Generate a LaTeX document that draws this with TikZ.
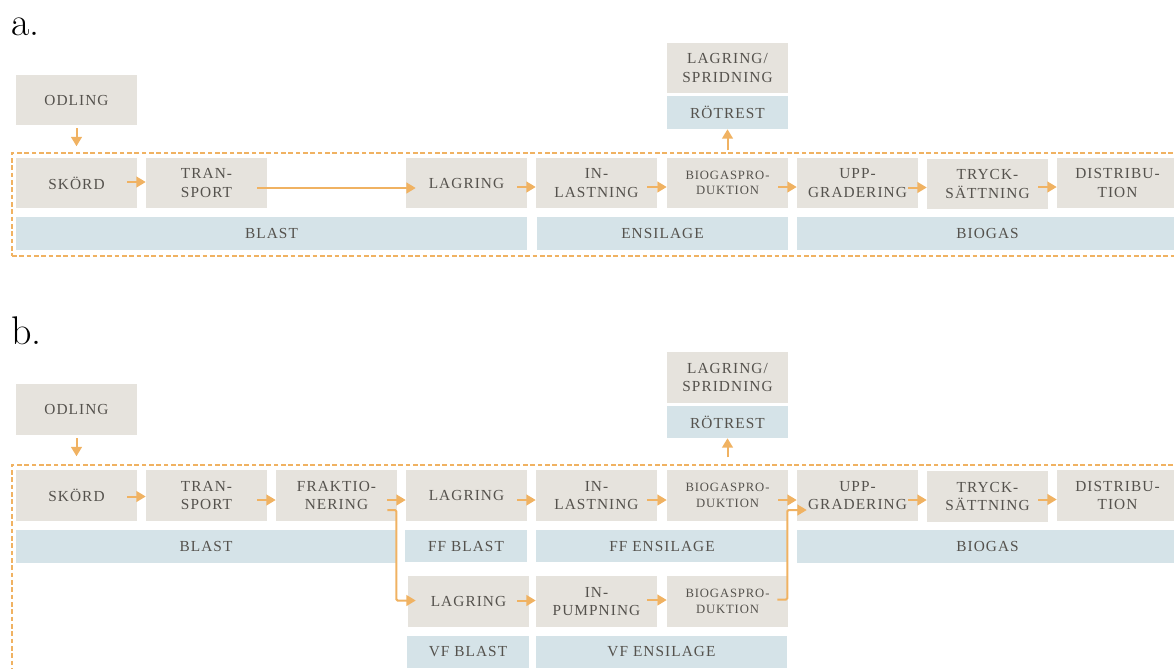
\documentclass[tikz,border=0pt]{standalone}
\usepackage{fontspec}
\newfontfamily\boxfont[LetterSpace=7]{Liberation Serif}
\usetikzlibrary{arrows.meta,calc}
\definecolor{gfill}{HTML}{E6E3DD}
\definecolor{bfill}{HTML}{D5E3E8}
\definecolor{orng}{HTML}{F0B262}
\definecolor{txt}{HTML}{55524D}
\tikzset{
  gbox/.style={fill=gfill, draw=none, inner sep=1pt, align=center, text=txt,
    font=\boxfont\fontsize{11.5}{14}\selectfont,
    minimum width=90.75pt, minimum height=37.5pt},
  bbox/.style={fill=bfill, draw=none, inner sep=1pt, align=center, text=txt,
    font=\boxfont\fontsize{11.5}{14}\selectfont, minimum height=24.75pt},
  small/.style={font=\boxfont\fontsize{9.5}{11.5}\selectfont},
  frame/.style={draw=orng, dashed, dash pattern=on 3.5pt off 2pt, line width=1.1pt,
    minimum width=883.5pt, inner sep=0pt},
  arr/.style={draw=orng, line width=1.5pt, -{Triangle[length=7pt,width=8pt]}},
  lbl/.style={font=\fontsize{30}{32}\selectfont, inner sep=0pt, anchor=base west}
}
\begin{document}
\begin{tikzpicture}[x=0.75pt, y=-0.75pt]
\useasboundingbox (0,0) rectangle (1174,668);
\clip (0,0) rectangle (1174,668);

% ---------------- a ----------------
\node[lbl] (la) at (11,35) {a.};
\node[frame, minimum height=77.25pt] (fA) at (601,204.5) {};
\node[gbox] (odA) at (76.5,100) {ODLING};
\node[gbox] (skA) at (76.5,183) {SKÖRD};
\node[gbox] (trA) at (206.5,183) {TRAN-\\SPORT};
\node[gbox] (lgA) at (466.5,183) {LAGRING};
\node[gbox] (inA) at (596.5,183) {IN-\\LASTNING};
\node[gbox, small] (bpA) at (727.5,183) {BIOGASPRO-\\DUKTION};
\node[gbox] (upA) at (857.5,183) {UPP-\\GRADERING};
\node[gbox] (tsA) at (987.5,184) {TRYCK-\\SÄTTNING};
\node[gbox] (diA) at (1117.5,183) {DISTRIBU-\\TION};
\node[gbox] (lsA) at (727.5,68) {LAGRING/\\SPRIDNING};
\node[bbox, minimum width=90.75pt] (rtA) at (727.5,112.5) {RÖTREST};
\node[bbox, minimum width=383.25pt] (blA) at (271.5,233.5) {BLAST};
\node[bbox, minimum width=188.25pt] (enA) at (662.5,233.5) {ENSILAGE};
\node[bbox, minimum width=285.75pt] (bgA) at (987.5,233.5) {BIOGAS};

\draw[arr] ($(odA.south)+(0,3)$) -- ($(odA.south |- fA.north)+(0,-6)$);
\draw[arr] ($(skA.east)+(-10,-1)$) -- ($(trA.west)+(0,-1)$);
\draw[arr] ($(trA.east)+(-10,5)$) -- ($(lgA.west)+(10,5)$);
\draw[arr] ($(lgA.east)+(-10,4)$) -- ($(inA.west)+(0,4)$);
\draw[arr] ($(inA.east)+(-10,4)$) -- ($(bpA.west)+(0,4)$);
\draw[arr] ($(bpA.east)+(-10,4)$) -- ($(upA.west)+(0,4)$);
\draw[arr] ($(upA.east)+(-10,4.5)$) -- ($(tsA.west)+(0,3.5)$);
\draw[arr] ($(tsA.east)+(-10,3)$) -- ($(diA.west)+(0,4)$);
\draw[arr] ($(bpA.north |- fA.north)+(0,-2)$) -- (rtA.south);

% ---------------- b ----------------
\node[lbl] (lb) at (11,344) {b.};
\node[frame, minimum height=176.25pt] (fB) at (601,582.5) {};
\node[gbox, minimum height=38.25pt] (odB) at (76.5,409.5) {ODLING};
\node[gbox, minimum height=38.25pt] (skB) at (76.5,495.5) {SKÖRD};
\node[gbox, minimum height=38.25pt] (trB) at (206.5,495.5) {TRAN-\\SPORT};
\node[gbox, minimum height=38.25pt] (frB) at (336.5,495.5) {FRAKTIO-\\NERING};
\node[gbox, minimum height=38.25pt] (lgB) at (466.5,495.5) {LAGRING};
\node[gbox, minimum height=38.25pt] (inB) at (596.5,495.5) {IN-\\LASTNING};
\node[gbox, small, minimum height=38.25pt] (bpB) at (727.5,495.5) {BIOGASPRO-\\DUKTION};
\node[gbox, minimum height=38.25pt] (upB) at (857.5,495.5) {UPP-\\GRADERING};
\node[gbox, minimum height=38.25pt] (tsB) at (987.5,496.5) {TRYCK-\\SÄTTNING};
\node[gbox, minimum height=38.25pt] (diB) at (1117.5,495.5) {DISTRIBU-\\TION};
\node[gbox, minimum height=38.25pt] (lsB) at (727.5,377.5) {LAGRING/\\SPRIDNING};
\node[bbox, minimum width=90.75pt, minimum height=24pt] (rtB) at (727.5,422) {RÖTREST};
\node[bbox, minimum width=285pt] (blB) at (206,546.5) {BLAST};
\node[bbox, minimum width=91.5pt, minimum height=24pt] (ffbl) at (466,546) {FF BLAST};
\node[bbox, minimum width=189pt, minimum height=24pt] (ffen) at (662,546) {FF ENSILAGE};
\node[bbox, minimum width=285.75pt] (bgB) at (987.5,546.5) {BIOGAS};
\node[gbox, minimum height=38.25pt] (lgV) at (468.5,601.5) {LAGRING};
\node[gbox, minimum height=38.25pt] (ipV) at (596.5,601.5) {IN-\\PUMPNING};
\node[gbox, small, minimum height=38.25pt] (bpV) at (727.5,601.5) {BIOGASPRO-\\DUKTION};
\node[bbox, minimum width=91.5pt, minimum height=24pt] (vfbl) at (468,652) {VF BLAST};
\node[bbox, minimum width=188.25pt, minimum height=24pt] (vfen) at (661.5,652) {VF ENSILAGE};

\draw[arr] ($(odB.south)+(0,3)$) -- ($(odB.south |- fB.north)+(0,-8)$);
\draw[arr] ($(skB.east)+(-10,1)$) -- ($(trB.west)+(0,1)$);
\draw[arr] ($(trB.east)+(-10,4.5)$) -- ($(frB.west)+(0,4.5)$);
\draw[arr] ($(frB.east)+(-10,4.5)$) -- ($(lgB.west)+(0,4.5)$);
\draw[arr, rounded corners=1pt] ($(frB.east)+(-10,14.5)$) -- ++(9,0) |- ($(lgV.west)+(8,-1)$);
\draw[arr] ($(lgB.east)+(-10,4.5)$) -- ($(inB.west)+(0,4.5)$);
\draw[arr] ($(inB.east)+(-10,4.5)$) -- ($(bpB.west)+(0,4.5)$);
\draw[arr] ($(bpB.east)+(-10,4.5)$) -- ($(upB.west)+(0,4.5)$);
\draw[arr] ($(upB.east)+(-10,4.5)$) -- ($(tsB.west)+(0,3.5)$);
\draw[arr] ($(tsB.east)+(-10,3)$) -- ($(diB.west)+(0,4)$);
\draw[arr] ($(lgV.east)+(-12,-1)$) -- ($(ipV.west)+(0,-1)$);
\draw[arr] ($(ipV.east)+(-10,-1.5)$) -- ($(bpV.west)+(0,-1.5)$);
\draw[arr, rounded corners=1pt] ($(bpV.east)+(-11,-2)$) -- ++(10,0) |- ($(upB.west)+(10,14.5)$);
\draw[arr] ($(bpB.north |- fB.north)+(0,-7)$) -- (rtB.south);
\end{tikzpicture}
\end{document}
